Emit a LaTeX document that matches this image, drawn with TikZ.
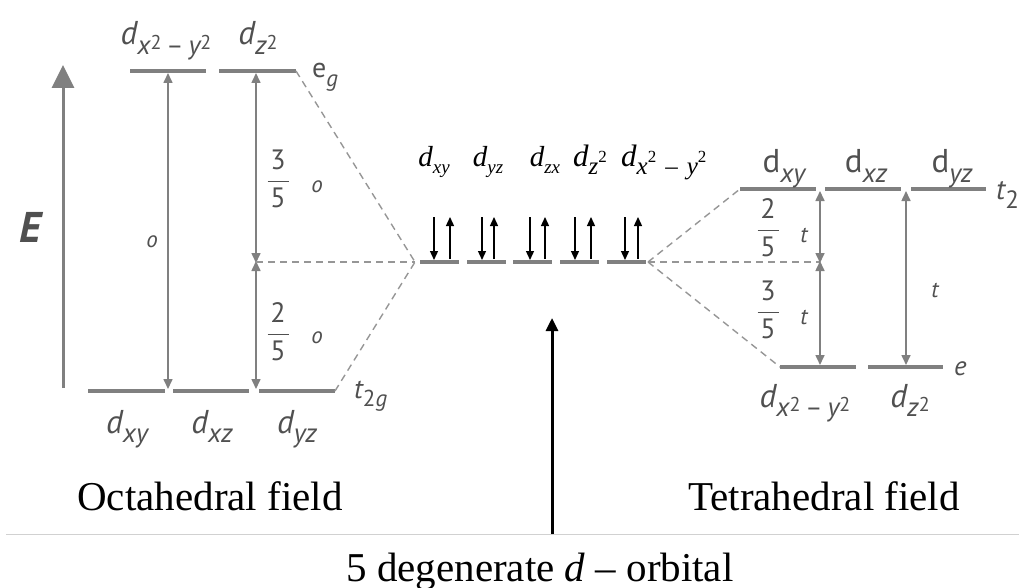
\documentclass[tikz,border=0pt]{standalone}
\usepackage{fix-cm}
\usepackage{fontspec}
\setmainfont{Liberation Serif}
\newfontfamily\gs{PT Sans}
\usetikzlibrary{arrows.meta}
\definecolor{lv}{RGB}{128,128,128}
\definecolor{gt}{RGB}{80,80,80}
\definecolor{dl}{RGB}{150,150,150}
\newcommand\fs[1]{\fontsize{#1}{#1}\selectfont}
\newcommand\sqr{\raisebox{0.2em}{\upshape\fs{20}2}}
\newcommand\xy{x\sqr\hspace{5pt}{\upshape\fs{26}\textendash}\hspace{5pt}y\sqr}
\newcommand\olab[1]{{\gs\fs{33}\itshape d\raisebox{-0.3em}{\fs{27}#1}}}
\newcommand\tlab[1]{{\gs\fs{33}d\raisebox{-0.3em}{\fs{27}\itshape #1}}}
\newcommand\clab[1]{{\fs{29}\itshape d\raisebox{-0.22em}{\fs{19}#1}}}
\newcommand\csq{\raisebox{0.5em}{\upshape\fs{17}2}}
\newcommand\cmlab[1]{{\fs{31}\itshape d\raisebox{-0.25em}{\fs{25}#1}}}
\newcommand\fr[2]{{\fs{28}$\vcenter{\hbox{$\displaystyle\frac{\makebox[21pt]{\gs\fs{28}#1}}{\makebox[21pt]{\gs\fs{28}#2}}$}}$}}
\begin{document}
\begin{tikzpicture}[x=1pt,y=-1pt,
  level/.style={draw=lv,line width=4pt},
  dsh/.style={draw=dl,line width=1.4pt,dash pattern=on 7pt off 5pt},
  garrow/.style={draw=lv,line width=1.6pt,{Triangle[length=10pt,width=9pt]}-{Triangle[length=10pt,width=9pt]}},
  spin/.style={draw=black,line width=1.3pt,-{Triangle[length=9pt,width=8pt]}},
  gtext/.style={text=gt,inner sep=0pt},
  btext/.style={text=black,inner sep=0pt}]
\path[use as bounding box] (0,0) rectangle (1019,588);

% energy axis
\coordinate (Eb) at (63,388);
\coordinate (Et) at (63,65);
\draw[draw=lv,line width=3pt,-{Triangle[length=23pt,width=22pt]}] (Eb) -- (Et);
\node[gtext] (E) at (30,227) {\gs\fs{43}\bfseries\itshape E};

% octahedral levels
\coordinate (oa1) at (130,71);  \coordinate (oa2) at (206,71);
\coordinate (ob1) at (219,71);  \coordinate (ob2) at (296,71);
\coordinate (oc1) at (88,391);  \coordinate (oc2) at (165,391);
\coordinate (od1) at (173,391); \coordinate (od2) at (249,391);
\coordinate (oe1) at (259,391); \coordinate (oe2) at (335,391);
\draw[level] (oa1) -- (oa2);
\draw[level] (ob1) -- (ob2);
\draw[level] (oc1) -- (oc2);
\draw[level] (od1) -- (od2);
\draw[level] (oe1) -- (oe2);

\node[gtext,anchor=base] (lo1) at (166,45) {\olab{\xy}};
\node[gtext,anchor=base] (lo2) at (258,45) {\olab{z\sqr}};
\node[gtext,anchor=base] (lo3) at (127,433) {\olab{xy}};
\node[gtext,anchor=base] (lo4) at (212,433) {\olab{xz}};
\node[gtext,anchor=base] (lo5) at (297,433) {\olab{yz}};
\node[gtext,anchor=base west] (eg) at (312,78) {\gs\fs{28}e\raisebox{-0.3em}{\fs{23}\itshape g}};
\node[gtext,anchor=base west] (t2g) at (354,398) {\gs\fs{28}\itshape t\raisebox{-0.3em}{\fs{23}\upshape 2\itshape g}};

% octahedral arrows
\coordinate (oA1) at (168,73); \coordinate (oA2) at (168,389);
\coordinate (oB1) at (256,73); \coordinate (oB2) at (256,262); \coordinate (oB3) at (256,389);
\draw[garrow] (oA1) -- (oA2);
\draw[garrow] (oB1) -- ([yshift=-1pt]oB2);
\draw[garrow] ([yshift=1pt]oB2) -- (oB3);
\node[gtext] (o1) at (152,242) {\gs\fs{23}\itshape o};
\node[gtext] (f1) at (278,179) {\fr{3}{5}};
\node[gtext] (o2) at (317,187) {\gs\fs{23}\itshape o};
\node[gtext] (f2) at (278,332) {\fr{2}{5}};
\node[gtext] (o3) at (317,338) {\gs\fs{23}\itshape o};

% central degenerate levels
\coordinate (cL) at (415,262);
\coordinate (cR) at (648,262);
\foreach \i/\a/\b/\dd/\uu in {1/420/459/434/450,2/467/506/482/494,3/513/552/530/545,4/560/599/575/591,5/607/646/625/638}{
  \coordinate (c\i a) at (\a,262); \coordinate (c\i b) at (\b,262);
  \draw[level] (c\i a) -- (c\i b);
  \coordinate (sd\i a) at (\dd,217); \coordinate (sd\i b) at (\dd,260);
  \coordinate (su\i a) at (\uu,259); \coordinate (su\i b) at (\uu,217);
  \draw[spin] (sd\i a) -- (sd\i b);
  \draw[spin] (su\i a) -- (su\i b);
}
\node[btext,anchor=base] (cl1) at (434,167) {\clab{xy}};
\node[btext,anchor=base] (cl2) at (488,167) {\clab{yz}};
\node[btext,anchor=base] (cl3) at (545,167) {\clab{zx}};
\node[btext,anchor=base] (cl4) at (590,167) {\cmlab{z\csq}};
\node[btext,anchor=base west] (cl5) at (621,167) {\cmlab{x\csq\hspace{9pt}{\upshape\textendash}\hspace{9pt}y\csq}};

% dashed correlation lines
\draw[dsh] (ob2) -- (cL);
\draw[dsh] (oe2) -- (cL);
\draw[dsh] (oB2) -- (cL);
\coordinate (ta1) at (740,189); \coordinate (ta2) at (816,189);
\coordinate (tb1) at (825,189); \coordinate (tb2) at (901,189);
\coordinate (tc1) at (911,189); \coordinate (tc2) at (986,189);
\coordinate (td1) at (780,367); \coordinate (td2) at (856,367);
\coordinate (te1) at (868,367); \coordinate (te2) at (943,367);
\coordinate (tm) at (820,262);
\draw[dsh] (cR) -- (ta1);
\draw[dsh] (cR) -- (td1);
\draw[dsh] (cR) -- (tm);

% tetrahedral levels
\draw[level] (ta1) -- (ta2);
\draw[level] (tb1) -- (tb2);
\draw[level] (tc1) -- (tc2);
\draw[level] (td1) -- (td2);
\draw[level] (te1) -- (te2);
\node[gtext,anchor=base] (lt1) at (784,173) {\tlab{xy}};
\node[gtext,anchor=base] (lt2) at (866,173) {\tlab{xz}};
\node[gtext,anchor=base] (lt3) at (952,173) {\tlab{yz}};
\node[gtext,anchor=base] (lt4) at (805,407) {\olab{\xy}};
\node[gtext,anchor=base] (lt5) at (910,407) {\olab{z\sqr}};
\node[gtext,anchor=base west] (t2) at (996,200) {\gs\fs{29}\itshape t\raisebox{-0.3em}{\fs{25}\upshape 2}};
\node[gtext,anchor=base west] (e) at (954,375) {\gs\fs{27}\itshape e};

% tetrahedral arrows
\coordinate (tA1) at (820,191); \coordinate (tA2) at (820,365);
\coordinate (tB1) at (906,191); \coordinate (tB2) at (906,365);
\draw[garrow] (tA1) -- ([yshift=-1pt]tm);
\draw[garrow] ([yshift=1pt]tm) -- (tA2);
\draw[garrow] (tB1) -- (tB2);
\node[gtext] (f3) at (768,228) {\fr{2}{5}};
\node[gtext] (t1) at (804,235) {\gs\fs{23}\itshape t};
\node[gtext] (f4) at (768,310) {\fr{3}{5}};
\node[gtext] (t3) at (804,317) {\gs\fs{23}\itshape t};
\node[gtext] (t4) at (935,290) {\gs\fs{23}\itshape t};

% bottom
\coordinate (sepL) at (6,534); \coordinate (sepR) at (1019,534);
\draw[draw=black!18,line width=1pt] (sepL) -- (sepR);
\coordinate (vb) at (552,534); \coordinate (vt) at (552,318);
\draw[draw=black,line width=3pt,-{Triangle[length=13pt,width=12pt]}] (vb) -- (vt);
\node[btext,anchor=base] (oct) at (210,510) {\fs{41}Octahedral field};
\node[btext,anchor=base] (tet) at (824,510) {\fs{41}Tetrahedral field};
\node[btext,anchor=base] (deg) at (540,581) {\fs{41}5 degenerate \textit{d} \textendash{} orbital};
\end{tikzpicture}
\end{document}
